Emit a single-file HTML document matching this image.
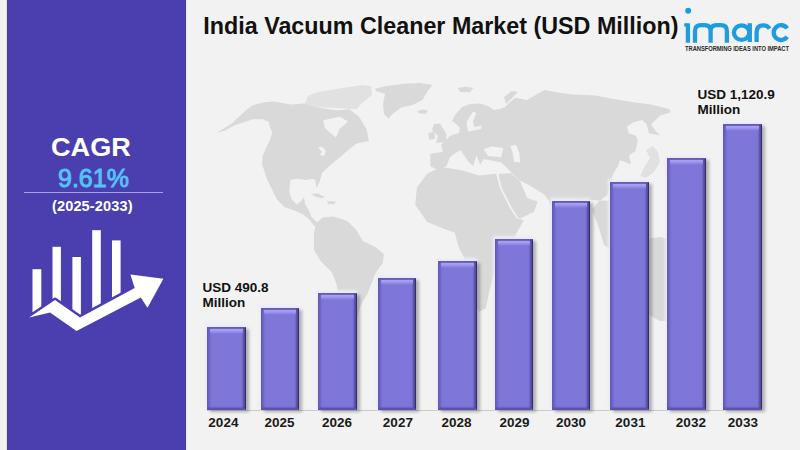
<!DOCTYPE html>
<html><head><meta charset="utf-8">
<style>
html,body{margin:0;padding:0;}
body{width:800px;height:450px;position:relative;overflow:hidden;background:#f2f2f2;font-family:"Liberation Sans",sans-serif;}
.abs{position:absolute;}
#side{left:7px;top:0;width:178.5px;height:450px;background:#4b3faf;box-shadow:1px 0 0 #ebe8fb,-1px 0 0 #ebe8fb,inset 1px 0 0 #463c9e,inset -1px 0 0 #463c9e;}
.t{position:absolute;white-space:nowrap;line-height:1;font-weight:bold;}
.bar{position:absolute;width:38.5px;background:#7e76d8;box-sizing:border-box;
 border-top:1px solid #645bbb;border-left:1px solid #6259b6;border-right:1.5px solid #342d6c;border-bottom:2px solid #5b52b0;
 box-shadow:inset -2px 0 2px rgba(45,38,100,0.55), inset 2px 0 2px rgba(70,60,150,0.35), 3px 2px 3px rgba(0,0,0,0.28), -1px -2px 3px 1px rgba(238,235,253,1);}
.bar::before{content:"";position:absolute;left:2px;right:2px;top:1px;height:5px;background:linear-gradient(#aaa2f5 0,#a299ef 35%,rgba(126,118,216,0) 100%);}
.axis{position:absolute;left:207px;top:410px;width:554px;height:1px;background:#c9c9cd;}
.yr{position:absolute;top:416px;width:60px;text-align:center;font-size:13.5px;font-weight:bold;line-height:1;color:#1a1a1a;}
</style></head>
<body>
<svg class="abs" style="left:0;top:0" width="800" height="450" viewBox="0 0 800 450" id="map">
<g fill="#d9d9d9" id="land"><path d="M216.7,132.7 L232.0,123.5 L236.0,119.5 L245.4,110.8 L252.7,105.3 L263.7,102.2 L273.5,101.6 L290.7,104.4 L307.8,103.2 L315.1,106.9 L337.1,110.6 L349.4,109.3 L359.1,116.7 L366.5,128.9 L368.9,141.1 L356.7,143.6 L346.9,150.9 L340.0,157.3 L330.0,165.3 L322.0,173.3 L319.3,182.7 L316.2,188.0 L315.3,180.0 L312.7,178.7 L306.0,180.0 L296.7,178.7 L290.6,180.0 L289.3,192.2 L291.8,199.6 L296.7,204.4 L301.6,200.8 L304.0,197.1 L305.2,204.4 L308.9,210.6 L311.3,216.7 L315.0,220.3 L318.5,224.5 L318.5,229.0 L313.8,225.2 L308.9,219.1 L302.8,214.2 L294.2,210.6 L284.4,206.9 L277.1,199.6 L272.2,189.8 L267.3,180.0 L264.7,172.0 L262.0,164.0 L262.7,156.0 L266.0,148.0 L270.0,140.0 L272.3,132.7 L269.8,126.6 L268.6,121.7 L262.5,119.3 L252.7,119.3 L240.0,123.5 L234.0,125.5 L224.7,130.8Z"/><path d="M375.0,88.8 L385.0,86.2 L403.8,83.8 L420.0,83.1 L432.5,85.0 L427.5,91.2 L422.5,100.0 L412.5,105.0 L401.2,107.5 L391.2,115.0 L388.8,118.8 L383.8,113.8 L383.1,103.8 L385.0,93.8 L376.2,91.2Z"/><path d="M417.5,111.0 L422.0,109.4 L428.0,110.5 L426.0,113.8 L419.0,113.5Z"/><path d="M311.3,194.0 L318.0,193.4 L324.8,197.0 L322.0,198.3 L315.0,196.5Z"/><path d="M327.0,201.0 L335.8,201.5 L334.0,204.4 L328.0,204.0Z"/><path d="M316.1,223.1 L322.8,217.6 L333.9,216.4 L347.2,220.9 L356.1,229.8 L362.8,240.9 L376.1,247.6 L383.9,254.2 L382.8,263.1 L376.1,272.0 L371.7,283.1 L367.2,294.2 L360.6,305.3 L358.0,315.0 L352.0,330.0 L346.0,330.0 L338.3,292.0 L336.1,283.1 L331.7,272.0 L320.6,260.9 L313.9,249.8 L313.9,234.2Z"/><path d="M434.0,124.0 L440.0,123.5 L446.4,134.0 L446.0,142.0 L436.0,143.0 L438.0,136.0 L432.0,130.0Z"/><path d="M428.5,133.0 L434.0,131.5 L435.0,138.5 L429.0,140.0Z"/><path d="M457.8,88.0 L466.0,86.7 L473.3,88.0 L470.0,92.2 L460.0,92.0Z"/><path d="M504.0,97.0 L512.0,91.0 L518.0,92.0 L510.0,100.0 L506.0,104.0Z"/><path d="M430.3,166.2 L430.3,153.7 L442.8,152.0 L441.0,144.8 L449.9,135.9 L455.0,134.0 L458.8,133.3 L460.0,128.0 L456.0,124.0 L452.0,121.0 L455.0,115.0 L462.0,107.0 L470.0,104.0 L480.0,103.5 L488.0,106.0 L494.0,110.0 L500.0,109.0 L505.0,107.0 L510.0,102.0 L515.6,97.8 L526.7,100.0 L535.6,95.0 L544.4,90.0 L557.8,92.5 L573.3,94.5 L595.6,95.6 L613.3,98.9 L633.3,102.2 L651.1,104.4 L668.9,108.9 L671.1,112.2 L660.0,115.6 L655.6,120.0 L651.1,124.4 L655.6,131.1 L660.0,135.6 L648.9,133.3 L646.7,124.4 L642.2,120.0 L633.3,122.2 L626.7,126.7 L628.9,133.3 L635.6,135.6 L637.8,140.0 L635.6,151.1 L628.9,155.6 L631.1,164.4 L620.0,160.0 L617.8,166.7 L613.3,173.3 L611.0,182.0 L607.5,195.0 L597.5,202.5 L592.0,210.0 L598.0,225.0 L604.0,245.0 L611.0,250.0 L611.0,201.0 L590.0,200.0 L575.0,200.0 L560.0,215.0 L550.0,205.0 L548.9,201.0 L544.4,194.4 L533.3,187.8 L527.0,184.0 L520.0,180.5 L511.0,172.0 L501.5,162.6 L483.7,159.0 L480.2,164.4 L476.6,155.5 L473.0,166.2 L467.7,160.8 L460.6,150.2 L457.0,152.0 L449.9,157.3 L446.4,166.2 L437.5,169.7Z"/><path d="M498.5,174.0 L511.0,173.0 L520.0,181.0 L527.2,197.9 L537.6,201.4 L534.1,211.7 L520.3,218.6 L518.5,218.5 L512.0,208.0 L501.5,187.5Z"/><path d="M427.2,173.8 L441.0,166.9 L461.7,170.3 L479.0,175.5 L496.2,173.8 L499.7,187.6 L510.0,208.3 L516.9,218.6 L523.8,220.3 L516.9,232.4 L510.0,246.2 L499.7,260.0 L492.8,277.2 L489.3,291.0 L485.9,308.3 L479.0,311.7 L472.0,300.0 L465.2,260.0 L458.3,246.2 L454.8,232.4 L444.5,229.0 L427.2,222.1 L415.2,204.8 L416.9,187.6Z"/><path d="M640.0,240.0 L660.0,237.0 L690.0,245.0 L705.0,260.0 L706.0,320.0 L660.0,321.0 L640.0,310.0Z"/><path fill="#e1e1e1" d="M305.0,104.0 L307.8,96.0 L317.6,92.2 L339.6,88.6 L361.6,84.9 L371.0,86.0 L372.0,95.0 L362.0,103.0 L356.7,109.3 L337.0,108.0 L315.0,107.0Z"/><path fill="#e1e1e1" d="M646.0,150.0 L653.0,146.0 L658.0,152.0 L660.0,162.0 L654.0,172.0 L646.0,178.0 L640.0,176.0 L645.0,166.0 L650.0,158.0Z"/></g><g fill="#f2f2f2"><path d="M323.2,120.3 L339.6,116.7 L348.1,121.6 L339.6,128.9 L335.9,137.5 L329.8,132.6 L324.9,127.7Z"/><path d="M483.7,149.0 L492.0,146.6 L503.3,148.0 L501.0,157.3 L488.0,156.0Z"/><path d="M510.4,146.0 L516.0,144.8 L519.3,153.0 L520.0,162.6 L514.0,162.0 L513.0,154.0Z"/><path d="M318.0,148.0 L322.0,146.5 L326.0,151.0 L324.0,156.0 L320.0,155.0 L322.0,151.5Z"/><path d="M473.0,111.5 L476.5,113.0 L473.0,121.0 L474.0,127.0 L482.0,125.5 L481.0,129.0 L468.0,131.5 L466.5,122.0Z"/></g>
</svg>

<div id="side" class="abs"></div>
<div class="t" style="left:50.6px;top:134.8px;font-size:25.5px;color:#fff;transform:scaleX(1.063);transform-origin:0 0;">CAGR</div>
<div class="t" style="left:58px;top:165.6px;font-size:25px;color:#55c2f8;font-weight:normal;-webkit-text-stroke:0.9px #55c2f8;">9.61%</div>
<div class="abs" style="left:24px;top:192.3px;width:139px;height:1px;background:#a69ee6;"></div>
<div class="t" style="left:52px;top:198.6px;font-size:14.5px;color:#fff;letter-spacing:0.15px;">(2025-2033)</div>

<svg class="abs" style="left:0;top:0" width="190" height="450" viewBox="0 0 190 450">
 <g fill="#fff">
  <rect x="32.5" y="269.2" width="8.8" height="43"/>
  <rect x="52.5" y="246.8" width="8.4" height="60"/>
  <rect x="72.4" y="257" width="8.5" height="65"/>
  <rect x="92.2" y="230.2" width="8.6" height="85"/>
  <rect x="112" y="240.4" width="8.6" height="65"/>
 </g>
 <polygon fill="#4b3faf" stroke="#4b3faf" stroke-width="5" stroke-linejoin="round" points="29.2,317.5 55,300 80,317.5 134.7,288 130.4,274.5 163.4,278.7 147.5,307.7 140.8,297.5 76.5,331 50,312.5"/>
 <polygon fill="#fff" points="29.2,317.5 55,300 80,317.5 134.7,288 130.4,274.5 163.4,278.7 147.5,307.7 140.8,297.5 76.5,331 50,312.5"/>
</svg>

<div class="t" style="left:203.3px;top:15.2px;font-size:23.3px;color:#111;">India Vacuum Cleaner Market (USD Million)</div>

<!-- imarc logo -->
<svg class="abs" style="left:680px;top:0" width="120" height="60" viewBox="680 0 120 60">
 <g fill="none" stroke="#1d9de0" stroke-width="4.3" stroke-linecap="butt">
  <path d="M687.9,42.7 V23.3"/>
  <path d="M695,42.7 V31 Q695,25.2 701,25.2 H704.6 Q710.6,25.2 710.6,31 V42.7 M710.6,31 Q710.6,25.2 716.6,25.2 H721 Q726.9,25.2 726.9,31 V42.7"/>
  <ellipse cx="741.6" cy="32.6" rx="7.7" ry="7.3"/>
  <path d="M749.8,23.2 V42"/>
  <path d="M756.6,42 V32 Q756.6,25.3 763.5,25.3 Q767.5,25.3 769.6,28.6"/>
  <path d="M787.2,28.4 A7.4,7.4 0 1 0 787.2,36.8"/>
 </g>
 <rect x="684.2" y="23.3" width="3" height="3.2" fill="#1d9de0"/>
 <circle cx="688.2" cy="10.8" r="3" fill="#1d9de0"/>
</svg>
<div class="t" style="left:685px;top:47.3px;font-size:5.8px;color:#2a2a2a;letter-spacing:-0.05px;transform:scaleY(1.12);transform-origin:0 0;">TRANSFORMING IDEAS INTO IMPACT</div>

<!-- bars -->
<div class="axis"></div>
<div class="bar" style="left:207.2px;top:326.75px;height:83.25px;"></div>
<div class="bar" style="left:260.8px;top:308.00px;height:102.00px;"></div>
<div class="bar" style="left:318.3px;top:293.15px;height:116.85px;"></div>
<div class="bar" style="left:377.6px;top:278.00px;height:132.00px;"></div>
<div class="bar" style="left:438.0px;top:260.90px;height:149.10px;"></div>
<div class="bar" style="left:494.9px;top:239.00px;height:171.00px;"></div>
<div class="bar" style="left:551.5px;top:200.80px;height:209.20px;"></div>
<div class="bar" style="left:610.2px;top:181.60px;height:228.40px;"></div>
<div class="bar" style="left:667.4px;top:157.60px;height:252.40px;"></div>
<div class="bar" style="left:723.1px;top:123.90px;height:286.10px;"></div>

<div class="yr" style="left:193.4px;">2024</div>
<div class="yr" style="left:249.6px;">2025</div>
<div class="yr" style="left:307.1px;">2026</div>
<div class="yr" style="left:367.9px;">2027</div>
<div class="yr" style="left:426.6px;">2028</div>
<div class="yr" style="left:484.6px;">2029</div>
<div class="yr" style="left:541.0px;">2030</div>
<div class="yr" style="left:600.4px;">2031</div>
<div class="yr" style="left:660.9px;">2032</div>
<div class="yr" style="left:712.9px;">2033</div>

<div class="t" style="left:202.5px;top:280.6px;font-size:13.5px;color:#111;">USD 490.8</div>
<div class="t" style="left:202.5px;top:296.4px;font-size:13.5px;color:#111;">Million</div>
<div class="t" style="left:697.5px;top:88px;font-size:13.5px;color:#111;">USD 1,120.9</div>
<div class="t" style="left:697.5px;top:103px;font-size:13.5px;color:#111;">Million</div>
</body></html>
